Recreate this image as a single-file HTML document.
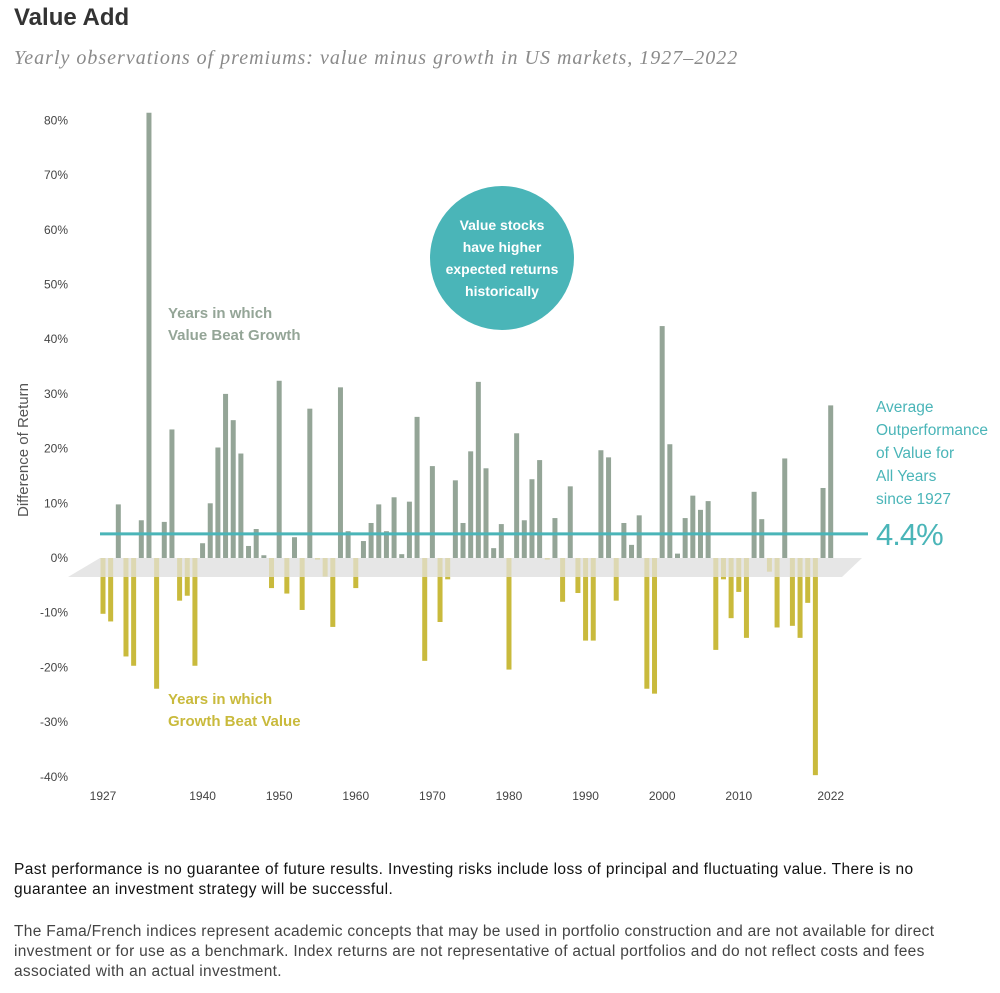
<!DOCTYPE html>
<html><head><meta charset="utf-8"><style>
body{margin:0;width:1000px;height:993px;background:#fff;font-family:"Liberation Sans",sans-serif;position:relative;overflow:hidden}
.t{position:absolute;white-space:nowrap}
</style></head><body>
<div class="t" style="left:14px;top:4px;font-size:24px;font-weight:bold;color:#333">Value Add</div>
<div class="t" style="left:14px;top:47px;font-family:'Liberation Serif',serif;font-style:italic;font-size:20px;letter-spacing:1px;color:#8a8a8a">Yearly observations of premiums: value minus growth in US markets, 1927–2022</div>
<svg id="chart" style="position:absolute;left:0;top:0" width="1000" height="830"></svg>
<div class="t" style="left:14px;top:860px;font-size:15.5px;letter-spacing:0.4px;line-height:20px;color:#111">Past performance is no guarantee of future results. Investing risks include loss of principal and fluctuating value. There is no<br>guarantee an investment strategy will be successful.</div>
<div class="t" style="left:14px;top:922px;font-size:15.5px;letter-spacing:0.3px;line-height:20px;color:#444">The Fama/French indices represent academic concepts that may be used in portfolio construction and are not available for direct<br>investment or for use as a benchmark. Index returns are not representative of actual portfolios and do not reflect costs and fees<br>associated with an actual investment.</div>
<script>
const firstYear = 1927;
const values = [-10.2,-11.6,9.8,-18,-19.7,6.9,81.4,-23.9,6.6,23.5,-7.8,-6.9,-19.7,2.7,10,20.2,30,25.2,19.1,2.2,5.3,0.5,-5.5,32.4,-6.5,3.8,-9.5,27.3,-0.3,-3.4,-12.6,31.2,4.9,-5.5,3.1,6.4,9.8,4.9,11.1,0.7,10.3,25.8,-18.8,16.8,-11.7,-3.9,14.2,6.4,19.5,32.2,16.4,1.8,6.2,-20.4,22.8,6.9,14.4,17.9,-0.3,7.3,-8,13.1,-6.4,-15.1,-15.1,19.7,18.4,-7.8,6.4,2.4,7.8,-23.9,-24.8,42.4,20.8,0.8,7.3,11.4,8.8,10.4,-16.8,-3.9,-11,-6.2,-14.6,12.1,7.1,-2.5,-12.7,18.2,-12.4,-14.6,-8.2,-39.7,12.8,27.9];
const yTicks = [80,70,60,50,40,30,20,10,0,-10,-20,-30,-40];
const xTickYears = [1927,1940,1950,1960,1970,1980,1990,2000,2010,2022];
const average = 4.4;
const NS="http://www.w3.org/2000/svg";
const svg=document.getElementById('chart');
const y0=558, pxPer=5.47;
const yS=v=>y0-v*pxPer;
const xS=yr=>103+(yr-firstYear)*7.66;
function mk(t,a,p){const e=document.createElementNS(NS,t);for(const k in a)e.setAttribute(k,a[k]);(p||svg).appendChild(e);return e;}
const band=mk('polygon',{points:'100,558 862,558 842,577 68,577',fill:'#e6e6e6'});


yTicks.forEach(v=>{const t=mk('text',{x:68,y:yS(v)+4,'text-anchor':'end','font-size':12,fill:'#444'});t.textContent=v+'%';

});
xTickYears.forEach(yr=>{const t=mk('text',{x:xS(yr),y:800,'text-anchor':'middle','font-size':12,fill:'#444'});t.textContent=yr;

});
const at=mk('text',{x:0,y:0,transform:'translate(28,450) rotate(-90)','text-anchor':'middle','font-size':15,fill:'#555'});at.textContent='Difference of Return';


values.forEach((v,i)=>{const x=xS(firstYear+i)-2.5;
 if(v>=0){const r=mk('rect',{x:x,y:yS(v),width:5,height:v*pxPer,fill:'#94a597'});
  
  }
 else{const h=-v*pxPer;const bh=Math.min(h,19);
  const f=mk('rect',{x:x,y:y0,width:5,height:bh,fill:'#c9ba3c','fill-opacity':0.3});
  
  
  if(h>19){const r=mk('rect',{x:x,y:y0+19,width:5,height:h-19,fill:'#c9ba3c'});
  
  }}
});
const al=mk('line',{x1:100,x2:868,y1:yS(average),y2:yS(average),stroke:'#4ab5b8','stroke-width':3});


</script>
<div class="t" style="left:168px;top:303px;font-size:15px;line-height:22px;color:#94a597;font-weight:bold">Years in which<br>Value Beat Growth</div>
<div class="t" style="left:168px;top:689px;font-size:15px;line-height:22px;color:#c9ba3c;font-weight:bold">Years in which<br>Growth Beat Value</div>
<div style="position:absolute;left:430px;top:186px;width:144px;height:144px;border-radius:50%;background:#4ab5b8;color:#fff;font-size:14px;font-weight:bold;line-height:22px;text-align:center;display:flex;align-items:center;justify-content:center">Value stocks<br>have higher<br>expected returns<br>historically</div>
<div class="t" style="left:876px;top:396px;font-size:15.5px;line-height:23px;color:#4ab5b8">Average<br>Outperformance<br>of Value for<br>All Years<br>since 1927</div>
<div class="t" style="left:876px;top:517px;font-size:31px;letter-spacing:-1px;color:#4ab5b8">4.4%</div>
</body></html>
